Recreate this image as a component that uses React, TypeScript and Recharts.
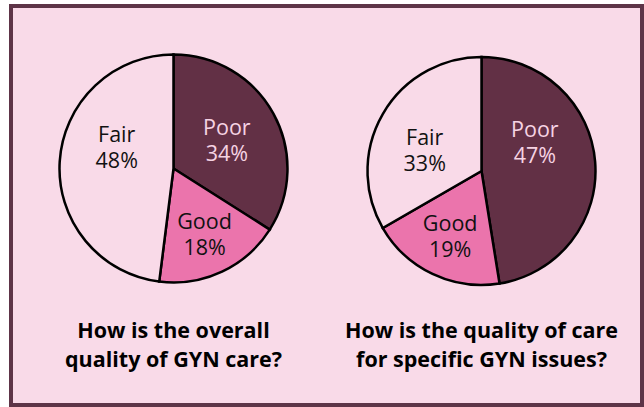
import { PieChart, Pie, Cell } from 'recharts';

const categories = ['Poor', 'Good', 'Fair'];
const overallValues = [34, 18, 48];
const specificValues = [47, 19, 33];
const titles = [
  ['How is the overall', 'quality of GYN care?'],
  ['How is the quality of care', 'for specific GYN issues?'],
];

const COLORS = ['#623045', '#EB74AC', '#F9DAE8'];
const LABEL_COLORS = ['#F6D3E3', '#111111', '#111111'];
const BG = '#F9DAE8';
const RAD = Math.PI / 180;
const FONT = '"Open Sans", sans-serif';

const toRows = (values: number[]) => categories.map((name, i) => ({ name, value: values[i] }));

// rough imitation of Excel's "best fit" label placement
const renderLabel = (props: any) => {
  const { cx, cy, midAngle, outerRadius, index, payload, percent } = props;
  let ang = midAngle;
  let r = outerRadius * 0.64;
  if (percent > 0.25) {
    const rightSide = Math.cos(midAngle * RAD) >= 0;
    ang = rightSide ? 28 : 160;
    r = outerRadius * 0.53;
  }
  const x = cx + r * Math.cos(-ang * RAD);
  const y = cy + r * Math.sin(-ang * RAD);
  return (
    <text
      x={x}
      y={y}
      textAnchor="middle"
      fill={LABEL_COLORS[index]}
      style={{ fontFamily: FONT, fontSize: 21.5 }}
    >
      <tspan x={x} y={y - 5.5}>{payload.name}</tspan>
      <tspan x={x} y={y + 20.5}>{payload.value}%</tspan>
    </text>
  );
};

const centers = [173.5, 481.5];

export default function App() {
  return (
    <div style={{ position: 'absolute', left: 0, top: 0, width: 644, height: 407, background: '#ffffff' }}>
      <div
        style={{
          position: 'absolute',
          left: 9,
          top: 4,
          width: 635,
          height: 403,
          boxSizing: 'border-box',
          border: '4px solid #5E3447',
          background: BG,
        }}
      />
      <div style={{ position: 'absolute', left: 0, top: 0 }}>
        <PieChart width={644} height={407} margin={{ top: 0, right: 0, bottom: 0, left: 0 }}>
          {[overallValues, specificValues].map((vals, k) => (
            <Pie
              key={k}
              data={toRows(vals)}
              dataKey="value"
              nameKey="name"
              cx={centers[k]}
              cy={k === 0 ? 168.5 : 171}
              outerRadius={114}
              startAngle={90}
              endAngle={-270}
              stroke="#000000"
              strokeWidth={2.5}
              label={renderLabel}
              labelLine={false}
              isAnimationActive={false}
            >
              {vals.map((_, i) => (
                <Cell key={i} fill={COLORS[i]} />
              ))}
            </Pie>
          ))}
        </PieChart>
      </div>
      {titles.map((lines, k) => (
        <div
          key={k}
          style={{
            position: 'absolute',
            left: centers[k] - 160,
            width: 320,
            top: 315,
            textAlign: 'center',
            fontFamily: FONT,
            fontWeight: 700,
            fontSize: 21.5,
            lineHeight: '29px',
            color: '#000000',
          }}
        >
          {lines.map((l, i) => (
            <div key={i}>{l}</div>
          ))}
        </div>
      ))}
    </div>
  );
}
